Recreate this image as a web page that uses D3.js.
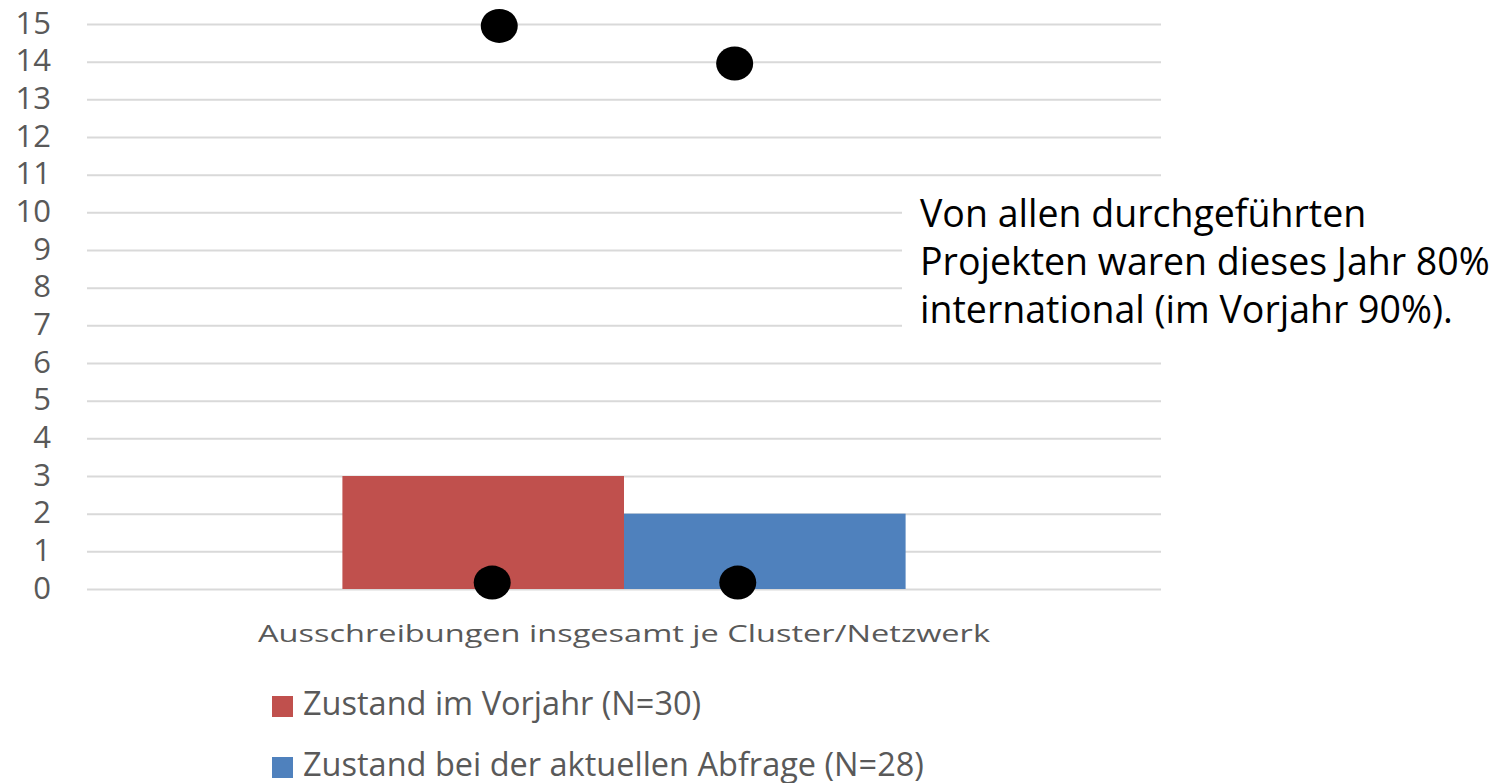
<!DOCTYPE html>
<html>
<head>
<meta charset="utf-8">
<script src="https://cdn.jsdelivr.net/npm/d3@7"></script>
<style>
  body { margin: 0; background: #fff; }
  svg { display: block; font-family: "Open Sans", Lato, sans-serif; }
</style>
</head>
<body>
<div id="chart"></div>
<script>
const categories = ["Ausschreibungen insgesamt je Cluster/Netzwerk"];
const seriesNames = ["Zustand im Vorjahr (N=30)", "Zustand bei der aktuellen Abfrage (N=28)"];
const seriesValues = [3, 2];
const seriesColors = ["#c0504d", "#4f81bd"];

// black dots: which series bar they sit on, their value, and where inside the bar (0..1)
const markerSeries = [0, 1, 0, 1];
const markerValues = [14.95, 13.95, 0.17, 0.17];
const markerOffsets = [0.557, 0.393, 0.532, 0.404];

const yTicks = [0, 1, 2, 3, 4, 5, 6, 7, 8, 9, 10, 11, 12, 13, 14, 15];

const noteLines = [
    "Von allen durchgeführten",
    "Projekten waren dieses Jahr 80%",
    "international (im Vorjahr 90%)."
];

const width = 1506, height = 783;
const margin = { top: 24, right: 345, bottom: 194, left: 87 };

const svg = d3.select("#chart").append("svg")
    .attr("width", width)
    .attr("height", height);

const x0 = d3.scaleBand()
    .domain(categories)
    .range([margin.left, width - margin.right])
    .padding(0.312);

const x1 = d3.scaleBand()
    .domain(seriesNames)
    .range([0, x0.bandwidth()]);

const y = d3.scaleLinear()
    .domain([0, 15])
    .range([height - margin.bottom, margin.top]);

// gridlines + tick labels
const yAxis = svg.append("g")
    .attr("transform", `translate(${margin.left},0)`)
    .call(d3.axisLeft(y)
        .tickValues(yTicks)
        .tickSize(-(width - margin.left - margin.right))
        .tickPadding(36));
yAxis.select(".domain").remove();
yAxis.selectAll(".tick line")
    .attr("stroke", "#d9d9d9")
    .attr("stroke-width", 2);
yAxis.selectAll(".tick text")
    .attr("fill", "#595959")
    .attr("dy", "0.3em")
    .style("font-size", "31px")
    .style("font-family", "'Open Sans', sans-serif");

// white box behind the note
svg.append("rect")
    .attr("x", 902)
    .attr("y", 190)
    .attr("width", width - 902)
    .attr("height", 152)
    .attr("fill", "#fff");

// bars
const group = svg.append("g")
    .attr("transform", `translate(${x0(categories[0])},0)`);

group.selectAll("rect")
    .data(seriesNames)
    .join("rect")
    .attr("x", d => x1(d))
    .attr("y", (d, i) => y(seriesValues[i]))
    .attr("width", x1.bandwidth())
    .attr("height", (d, i) => y(0) - y(seriesValues[i]))
    .attr("fill", (d, i) => seriesColors[i]);

// dots
group.selectAll("ellipse")
    .data(markerValues)
    .join("ellipse")
    .attr("cx", (d, i) => x1(seriesNames[markerSeries[i]]) + markerOffsets[i] * x1.bandwidth())
    .attr("cy", d => y(d))
    .attr("rx", 18.5)
    .attr("ry", 17)
    .attr("fill", "#000");

// category label
svg.append("text")
    .attr("x", x0(categories[0]) + x0.bandwidth() / 2)
    .attr("y", 642)
    .attr("text-anchor", "middle")
    .attr("fill", "#595959")
    .attr("textLength", 732)
    .attr("lengthAdjust", "spacingAndGlyphs")
    .style("font-size", "24px")
    .text(categories[0]);

// note
svg.append("text")
    .attr("fill", "#000")
    .style("font-size", "37.5px")
    .selectAll("tspan")
    .data(noteLines)
    .join("tspan")
    .attr("x", 920)
    .attr("y", (d, i) => 227 + i * 48)
    .text(d => d);

// legend
const legend = svg.append("g")
    .attr("transform", "translate(272,696)");

seriesNames.forEach((name, i) => {
    legend.append("rect")
        .attr("x", 0)
        .attr("y", i * 61)
        .attr("width", 21)
        .attr("height", 21)
        .attr("fill", seriesColors[i]);

    legend.append("text")
        .attr("x", 31)
        .attr("y", i * 61 + 19)
        .attr("fill", "#595959")
        .style("font-size", "32.5px")
        .text(name);
});
</script>
</body>
</html>
